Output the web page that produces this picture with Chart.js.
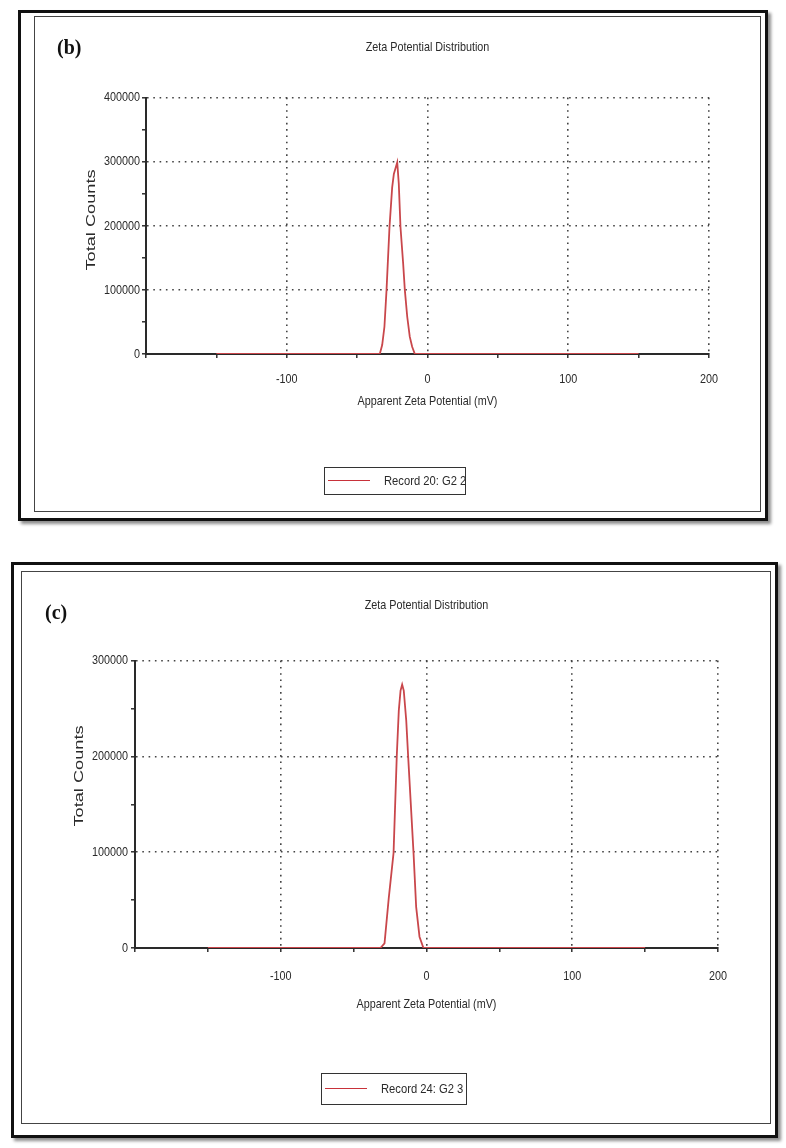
<!DOCTYPE html>
<html>
<head>
<meta charset="utf-8">
<script src="https://cdn.jsdelivr.net/npm/chart.js@4.4.0/dist/chart.umd.min.js"></script>
<style>
    body { margin: 0; width: 786px; height: 1148px; position: relative; background: #fff; overflow: hidden; }
    .outer { position: absolute; box-sizing: border-box; border: 3px solid #111; box-shadow: 3px 3px 3px rgba(0,0,0,0.45); }
    .inner { position: absolute; box-sizing: border-box; border: 1px solid #444; }
    .plot { position: absolute; }
    .tag { position: absolute; font: bold 20px 'Liberation Serif', 'DejaVu Serif', serif; color: #111; line-height: 24px; }
    .ytitle { position: absolute; white-space: nowrap; font: 13px 'Liberation Sans', Arial, sans-serif; color: #2a2a2a;
              transform: translate(-50%, -50%) rotate(-90deg) scaleX(1.4); }
    .legend { position: absolute; box-sizing: border-box; border: 1.5px solid #333; background: #fff;
              font: 13.5px 'Liberation Sans', Arial, sans-serif; color: #2a2a2a; }
    .legend .swatch { position: absolute; left: 3px; width: 42px; height: 0; border-top: 1.6px solid #c8323a; }
    .legend .text { position: absolute; left: 59px; white-space: nowrap; transform: scaleX(0.83); transform-origin: 0 50%; }
</style>
</head>
<body>

<div class="outer" style="left:18px; top:10px; width:750px; height:511px;"></div>
<div class="plot" style="left:34px; top:16px;"><canvas id="chartB" width="727" height="496"></canvas></div>
<div class="inner" style="left:34px; top:16px; width:727px; height:496px;"></div>
<div class="tag" style="left:57px; top:35px;">(b)</div>
<div class="ytitle" id="ytitleB" style="left:90px; top:220px;"></div>
<div class="legend" id="legendB" style="left:324px; top:467px; width:142px; height:28px;">
    <div class="swatch" style="top:12px;"></div><div class="text" style="top:5px;"></div>
</div>

<div class="outer" style="left:11px; top:562px; width:767px; height:576px;"></div>
<div class="plot" style="left:21px; top:571px;"><canvas id="chartC" width="750" height="553"></canvas></div>
<div class="inner" style="left:21px; top:571px; width:750px; height:553px;"></div>
<div class="tag" style="left:45px; top:600px;">(c)</div>
<div class="ytitle" id="ytitleC" style="left:78px; top:776px;"></div>
<div class="legend" id="legendC" style="left:321px; top:1073px; width:146px; height:32px;">
    <div class="swatch" style="top:14px;"></div><div class="text" style="top:7px;"></div>
</div>

<script>
// panel (b) - Record 20
const zetaB   = [-150, -33.9, -32.2, -30.6, -29.1, -27.0, -25.1, -23.9, -21.5, -20.4, -19.2, -17.3, -16.1, -14.4, -12.6, -10.9, -9.0, 150];
const countsB = [0, 0, 14000, 42500, 100000, 198000, 260000, 281000, 299000, 265700, 198100, 141100, 99600, 58100, 27000, 11400, 0, 0];
const labelB = 'Record 20: G2 2';
const yTickLabelsB = [0, 100000, 200000, 300000, 400000];

// panel (c) - Record 24
const zetaC   = [-150, -31.6, -28.8, -25.9, -22.6, -20.4, -19.0, -17.8, -16.7, -15.6, -13.9, -12.6, -8.9, -7.1, -4.8, -2.1, 150];
const countsC = [0, 0, 4900, 52000, 99300, 200300, 248000, 268750, 275000, 268750, 237500, 200300, 99300, 43000, 11800, 0, 0];
const labelC = 'Record 24: G2 3';
const yTickLabelsC = [0, 100000, 200000, 300000];

const xTickLabels = [-100, 0, 100, 200];
const chartTitle = 'Zeta Potential Distribution';
const xTitle = 'Apparent Zeta Potential (mV)';
const yTitle = 'Total Counts';

const RED = '#c9474b';
const INK = '#2a2a2a';
const GRID = '#444';
const SANS = "'Liberation Sans', Arial, sans-serif";

// the original software uses a narrow face; squeeze canvas text horizontally
const condense = {
    id: 'condense',
    beforeDraw(chart) {
        const ctx = chart.ctx;
        if (ctx._condensed) return;
        const fill = ctx.fillText.bind(ctx);
        ctx.fillText = (text, x, y) => fill(text, x, y, ctx.measureText(text).width * 0.8);
        ctx._condensed = true;
    }
};

function buildChart(id, zeta, counts, label, yMax, yLabels, lay) {
    const font = { family: SANS, size: 13.5 };
    const clear = 'rgba(0,0,0,0)';

    new Chart(document.getElementById(id), {
        type: 'line',
        data: {
            datasets: [{
                label: label,
                data: zeta.map((x, i) => ({ x: x, y: counts[i] })),
                borderColor: RED,
                borderWidth: 1.8,
                pointRadius: 0,
                tension: 0,
                fill: false
            }]
        },
        plugins: [condense],
        options: {
            responsive: false,
            animation: false,
            devicePixelRatio: 1,
            layout: { padding: { left: lay.padL, right: lay.padR, top: lay.padT, bottom: lay.padB } },
            plugins: {
                legend: { display: false },
                tooltip: { enabled: false },
                title: {
                    display: true,
                    text: chartTitle,
                    fullSize: false,
                    color: INK,
                    font: { family: SANS, size: 13.5, weight: 'normal' },
                    padding: { top: lay.titleTop, bottom: lay.titleBottom }
                }
            },
            scales: {
                x: {
                    type: 'linear',
                    min: -200,
                    max: 200,
                    afterFit: s => { s.height = lay.xH; },
                    ticks: {
                        stepSize: 50,
                        autoSkip: false,
                        maxRotation: 0,
                        padding: lay.xTickPad,
                        color: INK,
                        font: font,
                        callback: v => xTickLabels.includes(v) ? String(v) : ''
                    },
                    grid: {
                        color: c => (c.tick && xTickLabels.includes(c.tick.value)) ? GRID : clear,
                        lineWidth: 1.6,
                        tickColor: '#222',
                        tickLength: 4,
                        tickWidth: 1.4
                    },
                    border: { color: '#2a2a2a', width: 2, dash: [1.6, 4.7] },
                    title: {
                        display: true,
                        text: xTitle,
                        color: INK,
                        font: font,
                        padding: { top: 0, bottom: 0 }
                    }
                },
                y: {
                    min: 0,
                    max: yMax,
                    afterFit: s => { s.width = lay.yW; },
                    ticks: {
                        stepSize: 50000,
                        autoSkip: false,
                        padding: lay.yTickPad,
                        color: INK,
                        font: font,
                        callback: v => yLabels.includes(v) ? String(v) : ''
                    },
                    grid: {
                        color: c => (c.tick && c.tick.value > 0 && yLabels.includes(c.tick.value)) ? GRID : clear,
                        lineWidth: 1.6,
                        tickColor: '#222',
                        tickLength: 4,
                        tickWidth: 1.4
                    },
                    border: { color: '#2a2a2a', width: 2, dash: [1.6, 4.7] }
                }
            }
        }
    });
}

buildChart('chartB', zetaB, countsB, labelB, 400000, yTickLabelsB, {
    padL: 40, yW: 72, padR: 52, padT: 5, titleTop: 18.2, titleBottom: 42.2,
    xH: 55, padB: 103, xTickPad: 13, yTickPad: 2
});
buildChart('chartC', zetaC, countsC, labelC, 300000, yTickLabelsC, {
    padL: 40, yW: 74, padR: 53, padT: 5, titleTop: 21.2, titleBottom: 47.2,
    xH: 64, padB: 112, xTickPad: 16, yTickPad: 3
});

// axis titles on the left and the boxed legends
document.getElementById('ytitleB').textContent = yTitle;
document.getElementById('ytitleC').textContent = yTitle;
document.querySelector('#legendB .text').textContent = labelB;
document.querySelector('#legendC .text').textContent = labelC;
</script>
</body>
</html>
